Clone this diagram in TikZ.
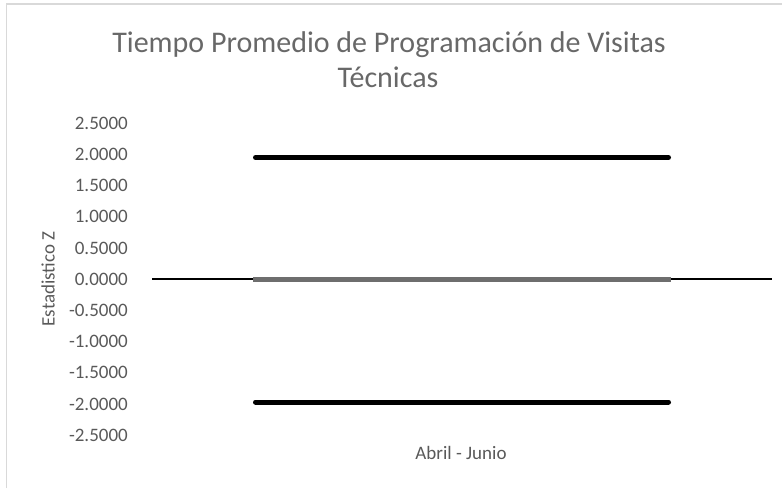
\documentclass[tikz,border=0pt]{standalone}
\usepackage{fontspec}
\setmainfont{Carlito}
\usepackage{tikz}
\usetikzlibrary{positioning}
\definecolor{txtgray}{HTML}{595959}
\definecolor{titlegray}{HTML}{686868}
\definecolor{framegray}{HTML}{D9D9D9}
\definecolor{meangray}{HTML}{6E6E6E}

\begin{document}
\begin{tikzpicture}[x=1pt,y=-1pt,
  lbl/.style={text=txtgray, inner sep=0pt, font=\fontsize{19}{19}\selectfont},
  tick/.style={lbl, anchor=east},
  ttl/.style={lbl, anchor=base, text=titlegray, font=\fontsize{30}{30}\selectfont},
  crit/.style={line width=5pt, line cap=round}]
\useasboundingbox (0,0) rectangle (782,488);
\draw[framegray, line width=1.5pt] (6.5,488) -- (6.5,4) -- (782,4);
% title
\node[ttl] (title1) at (389,52) {Tiempo Promedio de Programación de Visitas};
\node[ttl] (title2) at (388,87) {Técnicas};
% y axis
\foreach \i/\lab in {0/2.5000, 1/2.0000, 2/1.5000, 3/1.0000, 4/0.5000, 5/0.0000,
  6/-0.5000, 7/-1.0000, 8/-1.5000, 9/-2.0000, 10/-2.5000}
  \node[tick] (tick\i) at (128,123.3+31.2*\i) {\lab};
\node[lbl, rotate=90] (ztitle) at (48,279) {Estadistico Z};
% zero axis and limits
\coordinate (axL) at (152,279);
\coordinate (axR) at (772,279);
\draw[line width=1.3pt] (axL) -- (axR);
\coordinate (meanL) at (253,279);
\coordinate (meanR) at (671,279);
\draw[meangray, line width=5pt] (meanL) -- (meanR);
\coordinate (upL) at (255.5,157.5);
\coordinate (upR) at (668.5,157.5);
\draw[crit] (upL) -- (upR);
\coordinate (loL) at (255.5,402);
\coordinate (loR) at (668.5,402);
\draw[crit] (loL) -- (loR);
\node[lbl] (cat) at (461,453) {Abril - Junio};
\end{tikzpicture}
\end{document}
